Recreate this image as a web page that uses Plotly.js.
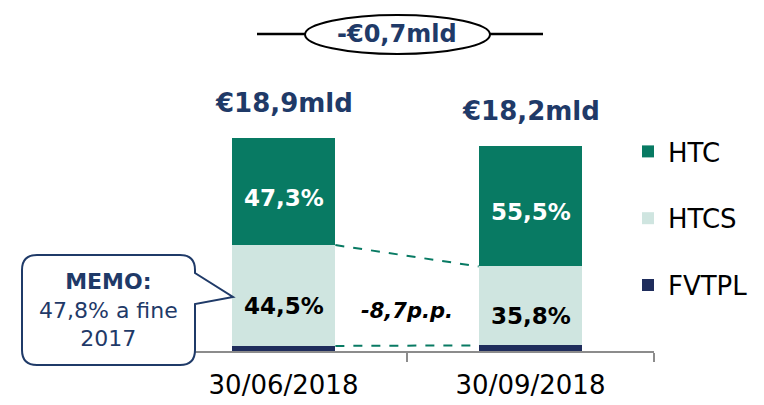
<!DOCTYPE html>
<html>
<head>
<meta charset="utf-8">
<script src="https://cdn.plot.ly/plotly-3.0.1.min.js"></script>
<style>html,body{margin:0;padding:0;background:#fff;}#chart{width:764px;height:405px;}</style>
</head>
<body>
<div id="chart"></div>
<script>
// ---- data ----
const categories = ['30/06/2018', '30/09/2018'];
const seriesNames = ['FVTPL', 'HTCS', 'HTC'];
const fvtplValues = [0.45, 0.5];      // € mld
const htcsValues = [8.95, 7.0];
const htcValues = [9.5, 10.7];
const htcsLabels = ['44,5%', '35,8%'];
const htcLabels = ['47,3%', '55,5%'];
const totalLabels = ['€18,9mld', '€18,2mld'];
const deltaTotalLabel = '-€0,7mld';
const deltaHtcsLabel = '-8,7p.p.';
const memoLines = ['<b>MEMO:</b>', '47,8% a fine', '2017'];

// ---- styles ----
const W = 764, H = 405, MB = 54, PH = H - MB;
const C_HTC = '#087A63', C_HTCS = '#CFE5E0', C_FV = '#1F2D5C', NAVY = '#1F3A68', GRAY = '#8C8C8C';
const FONT = 'DejaVu Sans, Verdana, sans-serif';
const px = x => x / W;
const py = y => (PH - y) / PH;

const totals = categories.map((c, i) => fvtplValues[i] + htcsValues[i] + htcValues[i]);
const idx = categories.map((c, i) => i);

const traces = [
  {type: 'bar', name: seriesNames[0], x: categories, y: fvtplValues, marker: {color: C_FV}, width: 0.42, legendgroup: 'a', legendrank: 3, hoverinfo: 'none'},
  {type: 'bar', name: seriesNames[1], x: categories, y: htcsValues, marker: {color: C_HTCS}, width: 0.42, legendgroup: 'b', legendrank: 2, hoverinfo: 'none'},
  {type: 'bar', name: seriesNames[2], x: categories, y: htcValues, marker: {color: C_HTC}, width: 0.42, legendgroup: 'c', legendrank: 1, hoverinfo: 'none'}
];

const halfW = 0.21;
const shapes = [
  {type: 'line', xref: 'x', yref: 'y', x0: idx[0] + halfW, x1: idx[1] - halfW,
   y0: fvtplValues[0] + htcsValues[0], y1: fvtplValues[1] + htcsValues[1],
   line: {color: C_HTC, width: 2, dash: 'dash'}},
  {type: 'line', xref: 'x', yref: 'y', x0: idx[0] + halfW, x1: idx[1] - halfW,
   y0: fvtplValues[0], y1: fvtplValues[1],
   line: {color: C_HTC, width: 2, dash: 'dash'}},
  {type: 'line', xref: 'paper', yref: 'paper', x0: px(257), x1: px(543), y0: py(34), y1: py(34),
   line: {color: '#000', width: 2.5}, layer: 'above'},
  {type: 'circle', xref: 'paper', yref: 'paper', x0: px(305), x1: px(490), y0: py(15), y1: py(54),
   line: {color: '#000', width: 2}, fillcolor: '#fff', layer: 'above'}
];

// memo callout path
const pts = [
  ['M', 37, 255], ['L', 180, 255], ['Q', 195, 255, 195, 270], ['L', 195, 273], ['L', 233, 297], ['L', 195, 304],
  ['L', 195, 350], ['Q', 195, 365, 180, 365], ['L', 37, 365], ['Q', 22, 365, 22, 350], ['L', 22, 270], ['Q', 22, 255, 37, 255]
];
let path = '';
pts.forEach(p => {
  path += p[0];
  for (let k = 1; k < p.length; k += 2) path += (k > 1 ? ' ' : '') + px(p[k]).toFixed(5) + ',' + py(p[k + 1]).toFixed(5);
  path += ' ';
});
path += 'Z';
shapes.push({type: 'path', xref: 'paper', yref: 'paper', path: path, line: {color: NAVY, width: 2}, fillcolor: '#fff', layer: 'above'});

const annotations = [];
categories.forEach((c, i) => {
  annotations.push({x: c, y: totals[i], xref: 'x', yref: 'y', text: totalLabels[i], showarrow: false,
    yanchor: 'middle', yshift: 35, font: {family: FONT, size: 26, color: NAVY, weight: 700}});
  annotations.push({x: c, y: fvtplValues[i] + htcsValues[i] / 2, xref: 'x', yref: 'y', text: htcsLabels[i], showarrow: false,
    yanchor: 'middle', yshift: -10, font: {family: FONT, size: 23, color: '#000', weight: 700}});
  annotations.push({x: c, y: fvtplValues[i] + htcsValues[i] + htcValues[i] / 2, xref: 'x', yref: 'y', text: htcLabels[i], showarrow: false,
    yanchor: 'middle', yshift: -6, font: {family: FONT, size: 23, color: '#fff', weight: 700}});
});
annotations.push({xref: 'paper', yref: 'paper', x: px(397), y: py(34), text: '<b>' + deltaTotalLabel + '</b>', showarrow: false,
  font: {family: FONT, size: 24, color: NAVY}, xanchor: 'center', yanchor: 'middle'});
annotations.push({xref: 'paper', yref: 'paper', x: px(407), y: py(311), text: '<b><i>' + deltaHtcsLabel + '</i></b>', showarrow: false,
  font: {family: FONT, size: 21, color: '#000'}, xanchor: 'center', yanchor: 'middle'});
annotations.push({xref: 'paper', yref: 'paper', x: px(108), y: py(310), text: memoLines.join('<br>'), showarrow: false,
  font: {family: FONT, size: 22, color: NAVY}, xanchor: 'center', yanchor: 'middle', align: 'center'});

const layout = {
  width: W, height: H,
  margin: {l: 0, r: 0, t: 0, b: MB, pad: 0},
  paper_bgcolor: '#fff', plot_bgcolor: '#fff',
  barmode: 'stack',
  showlegend: true,
  legend: {x: px(628), xanchor: 'left', y: py(128), yanchor: 'top', orientation: 'v',
    traceorder: 'grouped', tracegroupgap: 30,
    font: {family: FONT, size: 26, color: '#000'}, bgcolor: 'rgba(0,0,0,0)'},
  xaxis: {type: 'category', domain: [px(160), px(654)], range: [-0.5, 1.5], showline: true, linecolor: GRAY, linewidth: 2,
    ticks: 'outside', tickson: 'boundaries', ticklen: 9, tickwidth: 2, tickcolor: GRAY, showgrid: false, zeroline: false,
    ticklabelstandoff: 10,
    tickfont: {family: FONT, size: 26, color: '#000'}, fixedrange: true},
  yaxis: {visible: false, range: [0, PH / 11.27], fixedrange: true},
  shapes: shapes,
  annotations: annotations
};

Plotly.newPlot('chart', traces, layout, {displayModeBar: false, staticPlot: true});
</script>
</body>
</html>
